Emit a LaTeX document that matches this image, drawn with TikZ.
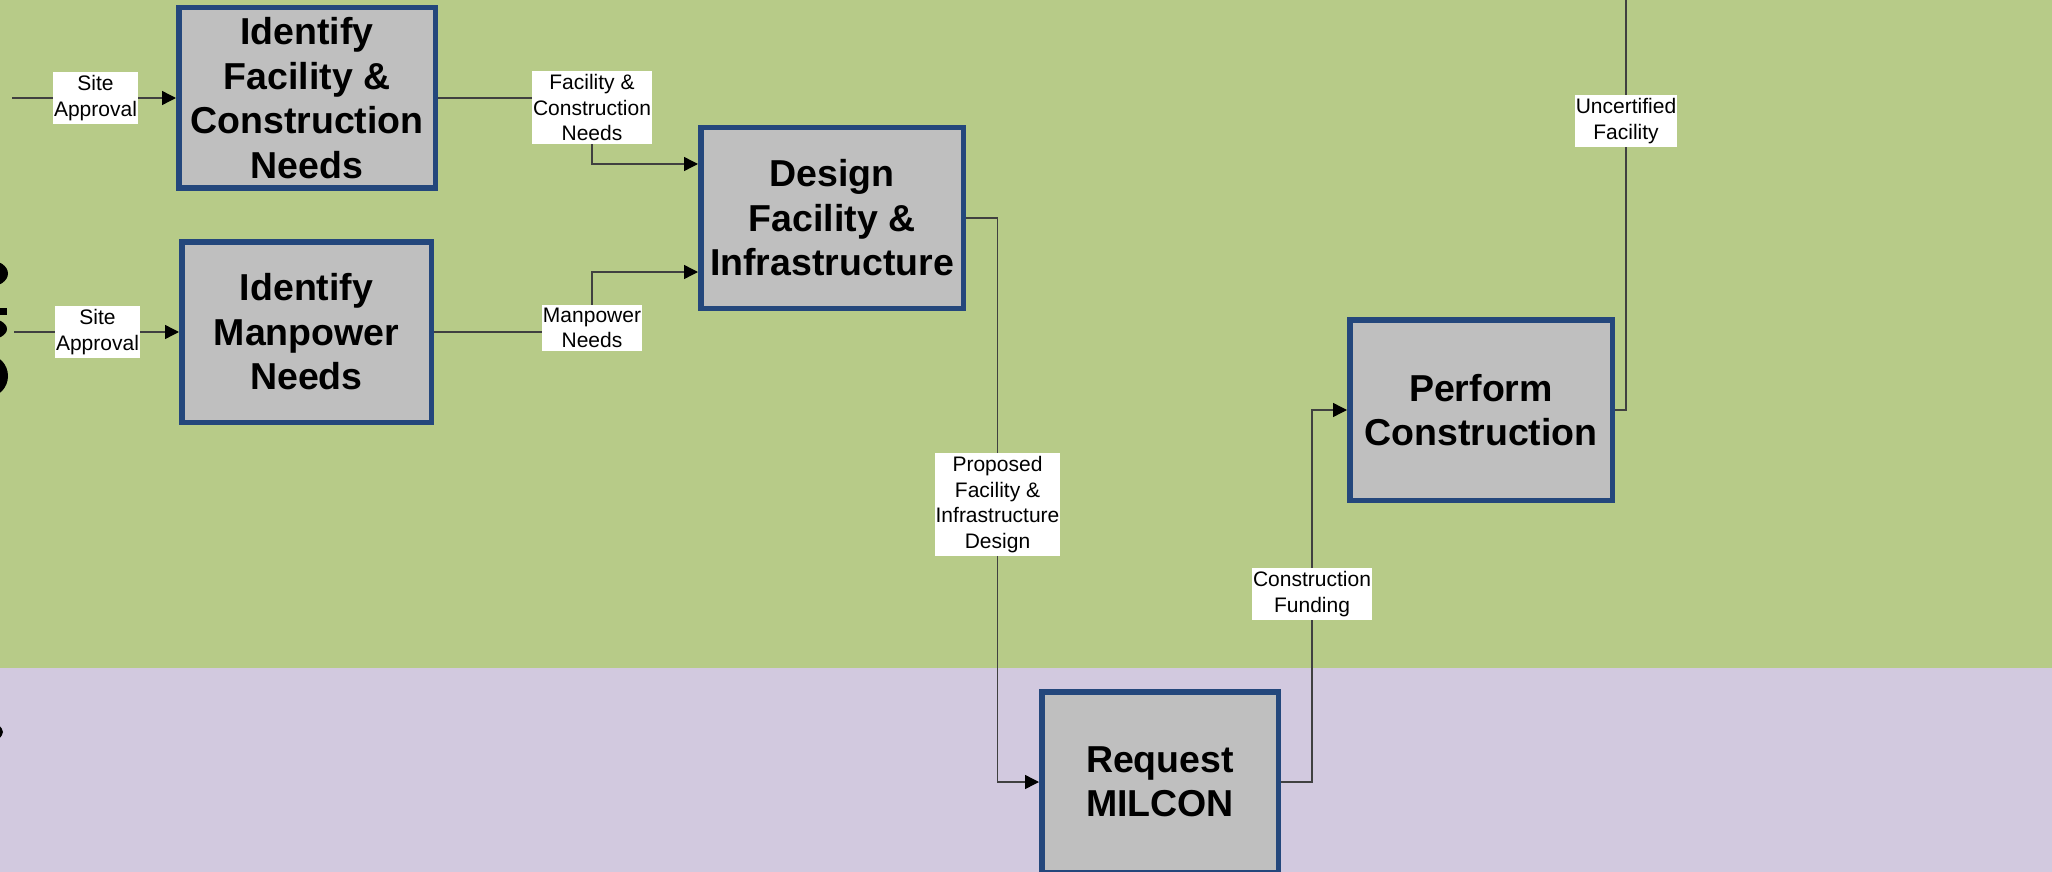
\documentclass[tikz,border=0pt]{standalone}
\usepackage{fontspec}
\setmainfont{Liberation Sans}
\usetikzlibrary{arrows.meta}
\definecolor{lanegreen}{HTML}{B7CB88}
\definecolor{lanepurple}{HTML}{D2C9DF}
\definecolor{boxgray}{HTML}{BFBFBF}
\definecolor{boxblue}{HTML}{24477C}
\pgfdeclarelayer{lanes}
\pgfdeclarelayer{wires}
\pgfsetlayers{lanes,wires,main}
\tikzset{
  task/.style={draw=boxblue, line width=2.75pt, fill=boxgray, minimum height=90.25pt, inner sep=0pt, align=center, font=\fontsize{18.75}{22.25}\selectfont\bfseries},
  flowlbl/.style={fill=white, align=center, inner xsep=0.5pt, inner ysep=1.5pt, font=\fontsize{10.5}{12.75}\selectfont},
  wire/.style={line width=0.7pt, draw=black!75},
  flow/.style={wire, -{Triangle[length=7pt,width=7pt,color=black]}},
}
\begin{document}
\begin{tikzpicture}[x=0.5pt,y=-0.5pt]
\useasboundingbox (0,0) rectangle (2052,872);
\begin{pgfonlayer}{lanes}
\fill[lanegreen] (0,0) rectangle (2052,668);
\fill[lanepurple] (0,668) rectangle (2052,872);
\end{pgfonlayer}
\begin{scope}
\clip (0,0) rectangle (2052,872);
\fill (-12,273.5) ellipse [x radius=20, y radius=13.5];
\fill (-10,308) rectangle (7,315);
\fill (-13,329) ellipse [x radius=20, y radius=11];
\fill (-12,376) ellipse [x radius=20, y radius=21];
\fill (-15,732) ellipse [x radius=18, y radius=10];
\end{scope}
\node[task, minimum width=128.25pt] (idfac) at (307,98) {Identify\\Facility \&\\Construction\\Needs};
\node[task, minimum width=124.75pt] (idman) at (306.5,332) {Identify\\Manpower\\Needs};
\node[task, minimum width=131.25pt] (design) at (832,218) {Design\\Facility \&\\Infrastructure};
\node[task, minimum width=131.25pt] (perform) at (1481,410) {Perform\\Construction};
\node[task, minimum width=118.25pt] (milcon) at (1160,782) {Request\\MILCON};
\node[flowlbl] (lblsa1) at (95.5,98) {Site\\Approval};
\node[flowlbl] (lblsa2) at (97.5,332) {Site\\Approval};
\node[flowlbl] (lblfcn) at (592,107.5) {Facility \&\\Construction\\Needs};
\node[flowlbl] (lblmpn) at (592,328) {Manpower\\Needs};
\node[flowlbl] (lblpfi) at (997.5,504.5) {Proposed\\Facility \&\\Infrastructure\\Design};
\node[flowlbl] (lblcf) at (1312,594) {Construction\\Funding};
\node[flowlbl] (lbluf) at (1626,121) {Uncertified\\Facility};
\coordinate (sa1in) at (12,98);
\coordinate (sa2in) at (14,332);
\coordinate (ufout) at (1626,-5);
\begin{pgfonlayer}{wires}
\draw[flow] (sa1in) -- (idfac.west);
\draw[flow] (sa2in) -- (idman.west);
\draw[flow] (idfac.east) -| (lblfcn.center) |- ([yshift=27pt]design.west);
\draw[flow] (idman.east) -| (lblmpn.center) |- ([yshift=-27pt]design.west);
\draw[flow] (design.east) -| (lblpfi.center) |- (milcon.west);
\draw[flow] (milcon.east) -| (lblcf.center) |- (perform.west);
\draw[wire] (perform.east) -| (lbluf.center) -- (ufout);
\end{pgfonlayer}
\end{tikzpicture}
\end{document}
